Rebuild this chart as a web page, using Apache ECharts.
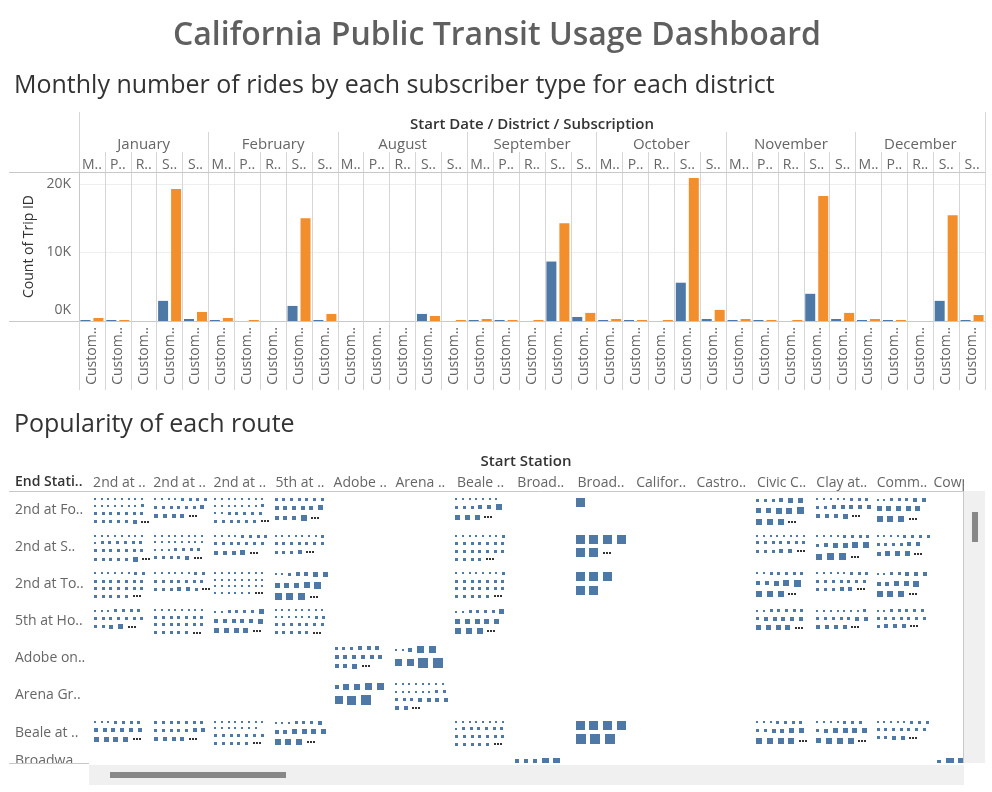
<!DOCTYPE html>
<html><head><meta charset="utf-8">
<script src="https://cdn.jsdelivr.net/npm/echarts@6/dist/echarts.min.js"></script>
<style>html,body{margin:0;padding:0;background:#fff}#c{width:992px;height:792px}</style>
</head><body><div id="c"></div>
<script>
// ---------- data: monthly rides ----------
const months = ['January','February','August','September','October','November','December'];
const districts = ['M..','P..','R..','S..','S..'];
const subscriptionLabel = 'Custom..';
const headerText = 'Start Date / District / Subscription';
// one value per month x district cell (M, P, R, S, S)
const customerRides = [
  150,150,0,2940,290,
  150,0,0,2200,150,
  0,0,0,1030,0,
  150,150,0,8680,590,
  150,150,0,5590,290,
  150,150,0,3970,290,
  150,150,0,2940,150
];
const subscriberRides = [
  440,150,0,19260,1320,
  440,150,0,15000,1030,
  0,0,0,735,150,
  290,150,150,14260,1180,
  290,150,150,20880,1620,
  290,150,150,18240,1180,
  290,150,0,15440,880
];
const yTickStep = 10000;

// ---------- data: route popularity ----------
const startStations = ['2nd at ..','2nd at ..','2nd at ..','5th at ..','Adobe ..','Arena ..','Beale ..','Broad..','Broad..','Califor..','Castro..','Civic C..','Clay at..','Comm..','Cowper..'];
const endStations = ['2nd at Fo..','2nd at S..','2nd at To..','5th at Ho..','Adobe on..','Arena Gr..','Beale at ..','Broadwa..'];
// [start index, end index, ride-count bins per mark (1 = fewest ... 9 = most), '|' = new row of marks, '+' = more marks not shown]
const routes = [
  [0,0,'11111111|11111112|2222222|222223+'],
  [1,0,'11112222|2222223|3333+'],
  [2,0,'11111111|11111112|1122222|222222+'],
  [3,0,'2222222|333334|3335+'],
  [6,0,'1111111|222335|444+'],
  [8,0,'8'],
  [11,0,'222344|44556|555+'],
  [12,0,'11111222|2233333|3334+'],
  [13,0,'1122233|44444|555+'],
  [0,1,'11111111|1222222|2222222|222224+'],
  [1,1,'11111111|11111111|1112222|22223+'],
  [2,1,'11112222|2222222|3334+'],
  [3,1,'11111112|2222222|2223+'],
  [6,1,'11111112|2222222|2222222|2222+'],
  [8,1,'8888|88+'],
  [11,1,'11111111|2222222|22233+'],
  [12,1,'11112222|234455|566+'],
  [13,1,'11112222|222233|3444+'],
  [0,2,'11111122|2222222|2222222|22222+'],
  [1,2,'11111122|2222222|222332+'],
  [2,2,'11111111|11111111|11111111|111111+'],
  [3,2,'1123344|44456|666+'],
  [6,2,'11111112|2222222|2222222|22222+'],
  [8,2,'888|88'],
  [11,2,'1122222|33456|555+'],
  [12,2,'11111222|2222222|22233+'],
  [13,2,'1122333|33445|555+'],
  [0,3,'1112222|2222222|2234+'],
  [1,3,'11111111|2222222|2222222|22222+'],
  [2,3,'1122224|333334|4444+'],
  [3,3,'11111111|11111122|2222222|22222+'],
  [6,3,'1122224|44444|555+'],
  [11,3,'1122222|233333|4444+'],
  [12,3,'11111112|2222233|3333+'],
  [13,3,'1122222|2222222|2333+'],
  [4,4,'222333|333333|334+'],
  [5,4,'11366|6699'],
  [4,5,'35566|789'],
  [5,5,'11111111|11111122|2223333|33+'],
  [0,6,'1112222|333333|4444+'],
  [1,6,'2222222|2222233|3333+'],
  [2,6,'11111111|1111111|2222222|22222+'],
  [3,6,'1112223|334444|555+'],
  [6,6,'11111111|1222222|2222222|22222+'],
  [8,6,'8888|999'],
  [11,6,'1112222|223344|5555+'],
  [12,6,'1111222|234444|4555+'],
  [13,6,'11111222|2222222|2233+'],
  [7,7,'33366|6788'],
  [14,7,'377|88']
];

// ---------- styling ----------
const FONT = '"Open Sans", Lato, "Noto Sans", sans-serif';
const BLUE = '#4e79a7', ORANGE = '#f28e2b';
const SEP = '#d6d6d6', AXIS = '#c8c8c8';
const GAP = 4.7;
const binPx = d => d + 1;

const cellIds = customerRides.map((_, i) => 'c' + i);
const startIds = startStations.map((_, i) => 's' + i);
const endIds = endStations.map((_, i) => 'e' + i);

function renderRoute(params, api) {
  const k = api.value(2);
  const c = api.coord([api.value(0), api.value(1)]);
  const sz = api.size([1, 1]);
  const left = c[0] - sz[0] / 2 + 4.7;
  let top = c[1] - sz[1] / 2 + 6.5;
  const pat = routes[k][2];
  const more = pat.endsWith('+');
  const lines = pat.replace('+', '').split('|');
  const children = [];
  lines.forEach((ln, li) => {
    const sizes = ln.split('').map(Number).map(binPx);
    const h = Math.max.apply(null, sizes);
    const cy = top + h / 2;
    let x = left;
    sizes.forEach(s => {
      children.push({type: 'rect', shape: {x: Math.round(x), y: Math.round(cy - s / 2), width: s, height: s}, style: {fill: BLUE}});
      x += s + GAP;
    });
    if (more && li === lines.length - 1) {
      for (let j = 0; j < 3; j++) {
        children.push({type: 'rect', shape: {x: Math.round(x + j * 3), y: Math.round(cy - 1), width: 2, height: 2}, style: {fill: '#333'}});
      }
    }
    top += h + GAP;
  });
  return {type: 'group', children};
}

const chart = echarts.init(document.getElementById('c'));
const option = {
  animation: false,
  textStyle: {fontFamily: FONT},
  grid: [
    {left: 79, top: 172, width: 906, height: 149, containLabel: false, outerBoundsMode: 'none'},
    {left: 89.3, top: 491, width: 903, height: 297.4, containLabel: false, outerBoundsMode: 'none'}
  ],
  xAxis: [
    {gridIndex: 0, type: 'category', data: cellIds, position: 'bottom',
      axisLine: {show: true, lineStyle: {color: AXIS}},
      axisTick: {show: true, interval: 0, length: 69, lineStyle: {color: SEP}},
      axisLabel: {interval: 0, rotate: 90, margin: 6, color: '#666', fontSize: 14, fontFamily: FONT, formatter: () => subscriptionLabel},
      splitLine: {show: true, interval: 0, lineStyle: {color: SEP}}},
    {gridIndex: 0, type: 'category', data: cellIds, position: 'top',
      axisLine: {show: true, lineStyle: {color: AXIS}},
      axisTick: {show: true, interval: 0, length: 20, lineStyle: {color: SEP}},
      axisLabel: {interval: 0, margin: 0, color: '#666', fontSize: 14, fontFamily: FONT, formatter: (v, i) => districts[i % districts.length]}},
    {gridIndex: 0, type: 'category', data: months, position: 'top', offset: 20,
      axisLine: {show: false},
      axisTick: {show: true, interval: 0, length: 20, lineStyle: {color: SEP}},
      axisLabel: {interval: 0, margin: 0, color: '#666', fontSize: 15, fontFamily: FONT}},
    {gridIndex: 0, type: 'category', data: [headerText], position: 'top', offset: 40,
      axisLine: {show: false},
      axisTick: {show: true, interval: 0, length: 20, lineStyle: {color: SEP}},
      axisLabel: {interval: 0, margin: 0, color: '#333', fontSize: 15, fontWeight: 600, fontFamily: FONT}},
    {gridIndex: 1, type: 'category', data: startIds, position: 'top',
      axisLine: {show: true, lineStyle: {color: AXIS}},
      axisTick: {show: false},
      axisLabel: {interval: 0, margin: 1, color: '#666', fontSize: 14, fontFamily: FONT, formatter: (v, i) => startStations[i]}}
  ],
  yAxis: [
    {gridIndex: 0, type: 'value', min: 0, max: 21750, interval: yTickStep,
      name: 'Count of Trip ID', nameLocation: 'middle', nameGap: 43, nameRotate: 90,
      nameTextStyle: {color: '#333', fontSize: 14, fontFamily: FONT},
      axisLine: {show: true, lineStyle: {color: AXIS}}, axisTick: {show: false},
      axisLabel: {margin: 8, color: '#666', fontSize: 14, fontFamily: FONT, showMaxLabel: false,
        formatter: v => (v % yTickStep) ? '' : (v === 0 ? '{z|0K}' : (v / 1000) + 'K'),
        rich: {z: {padding: [0, 0, 22, 0], color: '#666', fontSize: 14, fontFamily: FONT}}},
      splitLine: {show: true, lineStyle: {color: '#eeeeee'}}},
    {gridIndex: 1, type: 'category', data: endIds, inverse: true,
      axisLine: {show: false}, axisTick: {show: false},
      axisLabel: {interval: 0, align: 'left', margin: 74.3, color: '#666', fontSize: 14, fontFamily: FONT,
        formatter: (v, i) => i === endStations.length - 1 ? '{up|' + endStations[i] + '}' : endStations[i],
        rich: {up: {padding: [0, 0, 18, 0], color: '#666', fontSize: 14, fontFamily: FONT}}}}
  ],
  series: [
    {name: 'Customer', type: 'bar', xAxisIndex: 0, yAxisIndex: 0, data: customerRides, barWidth: 10, barGap: '30%', itemStyle: {color: BLUE}},
    {name: 'Subscriber', type: 'bar', xAxisIndex: 0, yAxisIndex: 0, data: subscriberRides, barWidth: 10, barGap: '30%', itemStyle: {color: ORANGE}},
    {name: 'Routes', type: 'custom', xAxisIndex: 4, yAxisIndex: 1, clip: true,
      data: routes.map((r, k) => [r[0], r[1], k]), renderItem: renderRoute}
  ],
  graphic: [
    {type: 'text', z: 100, style: {text: 'California Public Transit Usage Dashboard', x: 497, y: 36, textAlign: 'center', textVerticalAlign: 'middle', fill: '#5f5f5f', font: '600 32px ' + FONT}},
    {type: 'text', z: 100, style: {text: 'Monthly number of rides by each subscriber type for each district', x: 14, y: 86, textAlign: 'left', textVerticalAlign: 'middle', fill: '#333', font: '25px ' + FONT}},
    {type: 'text', z: 100, style: {text: 'Popularity of each route', x: 14, y: 425, textAlign: 'left', textVerticalAlign: 'middle', fill: '#333', font: '25px ' + FONT}},
    {type: 'text', z: 100, style: {text: 'Start Station', x: 526, y: 462, textAlign: 'center', textVerticalAlign: 'middle', fill: '#333', font: '600 15px ' + FONT}},
    {type: 'text', z: 100, style: {text: 'End Stati..', x: 15, y: 482, textAlign: 'left', textVerticalAlign: 'middle', fill: '#333', font: '600 14px ' + FONT}},
    {type: 'line', z: 100, shape: {x1: 9, y1: 172.5, x2: 79, y2: 172.5}, style: {stroke: AXIS}},
    {type: 'line', z: 100, shape: {x1: 9, y1: 321.5, x2: 79, y2: 321.5}, style: {stroke: AXIS}},
    {type: 'rect', z: 90, shape: {x: 0, y: 391, width: 992, height: 14}, style: {fill: '#fff'}},
    {type: 'line', z: 100, shape: {x1: 9, y1: 491.5, x2: 89.3, y2: 491.5}, style: {stroke: AXIS}},
    // scroll chrome
    {type: 'rect', z: 90, shape: {x: 964, y: 465, width: 28, height: 26}, style: {fill: '#fff'}},
    {type: 'rect', z: 90, shape: {x: 964, y: 491, width: 28, height: 301}, style: {fill: '#fff'}},
    {type: 'rect', z: 91, shape: {x: 964, y: 491, width: 21, height: 272}, style: {fill: '#f0f0f0'}},
    {type: 'line', z: 92, shape: {x1: 963.5, y1: 491, x2: 963.5, y2: 763}, style: {stroke: AXIS}},
    {type: 'rect', z: 92, shape: {x: 972, y: 512, width: 6, height: 30}, style: {fill: '#888'}},
    {type: 'rect', z: 90, shape: {x: 0, y: 763, width: 992, height: 29}, style: {fill: '#fff'}},
    {type: 'line', z: 92, shape: {x1: 9, y1: 763.5, x2: 89, y2: 763.5}, style: {stroke: AXIS}},
    {type: 'rect', z: 91, shape: {x: 89, y: 765, width: 875, height: 20}, style: {fill: '#f0f0f0'}},
    {type: 'rect', z: 92, shape: {x: 110, y: 772, width: 176, height: 6}, style: {fill: '#888'}}
  ]
};
chart.setOption(option);
</script></body></html>
